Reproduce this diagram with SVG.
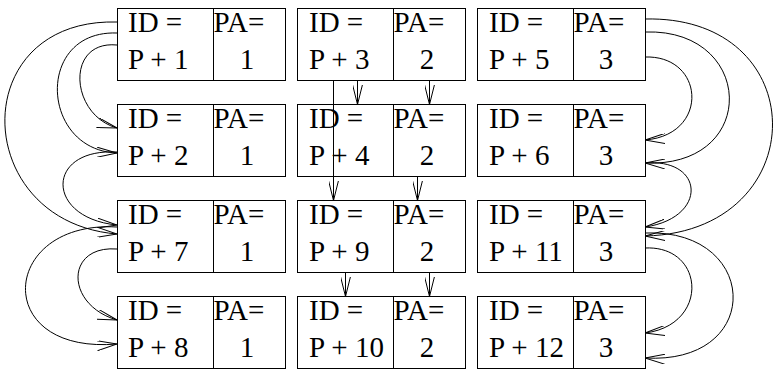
<svg xmlns="http://www.w3.org/2000/svg" width="775" height="370" viewBox="0 0 775 370">
<style>
.box{fill:#fff;stroke:#000;stroke-width:1}
.div{stroke:#000;stroke-width:1}
.num{text-anchor:middle}
.c{fill:none;stroke:#000;stroke-width:1;marker-end:url(#arr)}
</style>
<defs>
<marker id="arr" viewBox="0 0 20 10" markerWidth="20" markerHeight="10" refX="20" refY="5" orient="auto" markerUnits="userSpaceOnUse">
<path d="M0,0 L20,5 L0,10" fill="none" stroke="#000" stroke-width="1"/>
</marker>
</defs>
<rect width="775" height="370" fill="#fff"/>
<g font-family="Liberation Serif" font-size="29" fill="#000">
<g id="n1"><rect class="box" x="117.5" y="8.5" width="168" height="72"/><line class="div" x1="213.5" y1="8.5" x2="213.5" y2="80.5"/><text x="128" y="32">ID =</text><text x="128" y="69">P + 1</text><text x="213.5" y="32">PA=</text><text class="num" x="247" y="69">1</text></g>
<g id="n2"><rect class="box" x="117.5" y="104.5" width="168" height="72"/><line class="div" x1="213.5" y1="104.5" x2="213.5" y2="176.5"/><text x="128" y="128">ID =</text><text x="128" y="165">P + 2</text><text x="213.5" y="128">PA=</text><text class="num" x="247" y="165">1</text></g>
<g id="n7"><rect class="box" x="117.5" y="200.5" width="168" height="72"/><line class="div" x1="213.5" y1="200.5" x2="213.5" y2="272.5"/><text x="128" y="224">ID =</text><text x="128" y="261">P + 7</text><text x="213.5" y="224">PA=</text><text class="num" x="247" y="261">1</text></g>
<g id="n8"><rect class="box" x="117.5" y="296.5" width="168" height="72"/><line class="div" x1="213.5" y1="296.5" x2="213.5" y2="368.5"/><text x="128" y="320">ID =</text><text x="128" y="357">P + 8</text><text x="213.5" y="320">PA=</text><text class="num" x="247" y="357">1</text></g>
<g id="n3"><rect class="box" x="297.5" y="8.5" width="168" height="72"/><line class="div" x1="393.5" y1="8.5" x2="393.5" y2="80.5"/><text x="309" y="32">ID =</text><text x="309" y="69">P + 3</text><text x="393.5" y="32">PA=</text><text class="num" x="427" y="69">2</text></g>
<g id="n4"><rect class="box" x="297.5" y="104.5" width="168" height="72"/><line class="div" x1="393.5" y1="104.5" x2="393.5" y2="176.5"/><text x="309" y="128">ID =</text><text x="309" y="165">P + 4</text><text x="393.5" y="128">PA=</text><text class="num" x="427" y="165">2</text></g>
<g id="n9"><rect class="box" x="297.5" y="200.5" width="168" height="72"/><line class="div" x1="393.5" y1="200.5" x2="393.5" y2="272.5"/><text x="309" y="224">ID =</text><text x="309" y="261">P + 9</text><text x="393.5" y="224">PA=</text><text class="num" x="427" y="261">2</text></g>
<g id="n10"><rect class="box" x="297.5" y="296.5" width="168" height="72"/><line class="div" x1="393.5" y1="296.5" x2="393.5" y2="368.5"/><text x="309" y="320">ID =</text><text x="309" y="357">P + 10</text><text x="393.5" y="320">PA=</text><text class="num" x="427" y="357">2</text></g>
<g id="n5"><rect class="box" x="477.5" y="8.5" width="168" height="72"/><line class="div" x1="573.5" y1="8.5" x2="573.5" y2="80.5"/><text x="489" y="32">ID =</text><text x="489" y="69">P + 5</text><text x="573.5" y="32">PA=</text><text class="num" x="606" y="69">3</text></g>
<g id="n6"><rect class="box" x="477.5" y="104.5" width="168" height="72"/><line class="div" x1="573.5" y1="104.5" x2="573.5" y2="176.5"/><text x="489" y="128">ID =</text><text x="489" y="165">P + 6</text><text x="573.5" y="128">PA=</text><text class="num" x="606" y="165">3</text></g>
<g id="n11"><rect class="box" x="477.5" y="200.5" width="168" height="72"/><line class="div" x1="573.5" y1="200.5" x2="573.5" y2="272.5"/><text x="489" y="224">ID =</text><text x="489" y="261">P + 11</text><text x="573.5" y="224">PA=</text><text class="num" x="606" y="261">3</text></g>
<g id="n12"><rect class="box" x="477.5" y="296.5" width="168" height="72"/><line class="div" x1="573.5" y1="296.5" x2="573.5" y2="368.5"/><text x="489" y="320">ID =</text><text x="489" y="357">P + 12</text><text x="573.5" y="320">PA=</text><text class="num" x="606" y="357">3</text></g>
</g>
<g id="connectors">
<path class="c" d="M117,22 C-35,18 -30,222 117,234"/>
<path class="c" d="M117,33 C35,30 40,150 117,153"/>
<path class="c" d="M117,45 C65,40 70,115 117,128"/>
<path class="c" d="M117,152 C45,148 45,218 117,225"/>
<path class="c" d="M117,227 C0,220 -10,355 117,344"/>
<path class="c" d="M117,249 C65,245 65,305 117,320"/>
<path class="c" d="M645,19 C815,15 815,232 645,236"/>
<path class="c" d="M645,32 C755,28 760,168 645,163"/>
<path class="c" d="M645,57 C705,55 710,135 645,140"/>
<path class="c" d="M645,163 C705,158 708,218 645,227"/>
<path class="c" d="M645,233 C760,228 765,365 645,358"/>
<path class="c" d="M645,248 C705,245 710,325 645,333"/>
<path class="c" d="M333.5,80.5 L333.5,200.5"/>
<path class="c" d="M357.5,80.5 L357.5,104.5"/>
<path class="c" d="M429.5,80.5 L429.5,104.5"/>
<path class="c" d="M417.5,176.5 L417.5,200.5"/>
<path class="c" d="M345.5,272.5 L345.5,296.5"/>
<path class="c" d="M429.5,272.5 L429.5,296.5"/>
</g>
</svg>
